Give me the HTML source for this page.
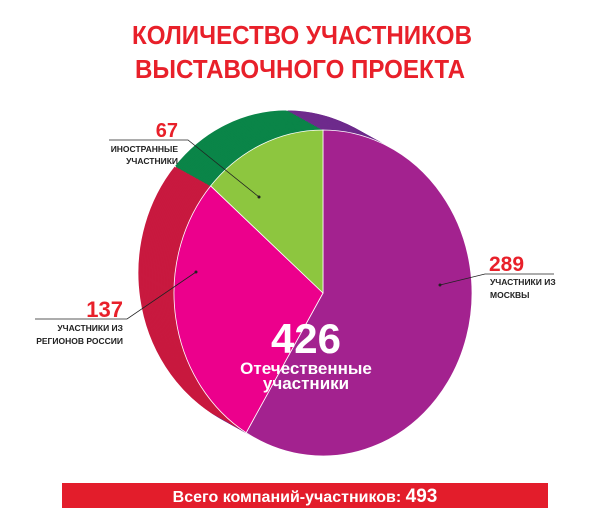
<!DOCTYPE html>
<html><head><meta charset="utf-8"><style>
html,body{margin:0;padding:0;background:#fff;}
svg{display:block;font-family:"Liberation Sans","DejaVu Sans",sans-serif;}
</style></head><body>
<svg id="chart" width="600" height="531" viewBox="0 0 600 531">
<g fill="#e8202a" font-weight="bold" font-size="26" text-anchor="middle">
<text x="302" y="44" textLength="340" lengthAdjust="spacingAndGlyphs">КОЛИЧЕСТВО УЧАСТНИКОВ</text>
<text x="300" y="78" textLength="330" lengthAdjust="spacingAndGlyphs">ВЫСТАВОЧНОГО ПРОЕКТА</text>
</g>
<g id="pie"></g>
<g fill="#fff" font-weight="bold" text-anchor="middle">
<text x="306" y="353" font-size="42">426</text>
<text x="306" y="374" font-size="17">Отечественные</text>
<text x="306" y="389" font-size="17">участники</text>
</g>
<g>
<polyline points="109,140 188,140 259,197" fill="none" stroke="#222" stroke-width="0.8"/>
<circle cx="259" cy="197" r="1.5" fill="#222"/>
<text x="178" y="137" text-anchor="end" font-size="20" font-weight="bold" fill="#e8202a">67</text>
<text x="178" y="152" text-anchor="end" font-size="8.5" font-weight="bold" fill="#222">ИНОСТРАННЫЕ</text>
<text x="178" y="164" text-anchor="end" font-size="8.5" font-weight="bold" fill="#222">УЧАСТНИКИ</text>
</g>
<g>
<polyline points="35,319 127,319 196,272" fill="none" stroke="#222" stroke-width="0.8"/>
<circle cx="196" cy="272" r="1.5" fill="#222"/>
<text x="123" y="317" text-anchor="end" font-size="22" font-weight="bold" fill="#e8202a">137</text>
<text x="123" y="331" text-anchor="end" font-size="8.5" font-weight="bold" fill="#222">УЧАСТНИКИ ИЗ</text>
<text x="123" y="344" text-anchor="end" font-size="8.5" font-weight="bold" fill="#222">РЕГИОНОВ РОССИИ</text>
</g>
<g>
<polyline points="440,285 485,274 554,274" fill="none" stroke="#222" stroke-width="0.8"/>
<circle cx="440" cy="285" r="1.5" fill="#222"/>
<text x="489" y="271" font-size="21" font-weight="bold" fill="#e8202a">289</text>
<text x="490" y="285" font-size="8.5" font-weight="bold" fill="#222">УЧАСТНИКИ ИЗ</text>
<text x="490" y="298" font-size="8.5" font-weight="bold" fill="#222">МОСКВЫ</text>
</g>
<g>
<rect x="62" y="483" width="486" height="25" fill="#e31d2b"/>
<text x="305" y="502" text-anchor="middle" fill="#fff" font-weight="bold" font-size="16">Всего компаний-участников: <tspan font-size="19">493</tspan></text>
</g>
</svg>
<script>
const categories = ["Москва", "Регионы России", "Иностранные"];
const values = [289, 137, 67];
const frontColors = ["#a3228f", "#ec008c", "#8dc63f"];
const sideColors = ["#6e2b8c", "#c8193f", "#0a8548"];
const cx = 323, cy = 293, rx = 149, ry = 163, offX = -36, offY = -20, steps = 24;
const ns = "http://www.w3.org/2000/svg";
const pie = document.getElementById("pie");
const total = values.reduce((a, b) => a + b, 0);
function pt(x0, y0, a) { return [x0 + rx * Math.sin(a), y0 - ry * Math.cos(a)]; }
function slicePath(x0, y0, a0, a1) {
  const p0 = pt(x0, y0, a0), p1 = pt(x0, y0, a1);
  const large = (a1 - a0) > Math.PI ? 1 : 0;
  return `M${x0},${y0} L${p0[0]},${p0[1]} A${rx},${ry} 0 ${large} 1 ${p1[0]},${p1[1]} Z`;
}
function drawLayer(x0, y0, colors, stroke, names) {
  let a = 0;
  values.forEach((v, i) => {
    const a1 = a + v / total * Math.PI * 2;
    const p = document.createElementNS(ns, "path");
    p.setAttribute("d", slicePath(x0, y0, a, a1));
    p.setAttribute("fill", colors[i]);
    if (stroke) { p.setAttribute("stroke", "#fff"); p.setAttribute("stroke-width", "0.8"); }
    
    
    pie.appendChild(p);
    a = a1;
  });
}
for (let s = steps; s >= 1; s--) {
  const t = s / steps;
  drawLayer(cx + offX * t, cy + offY * t, sideColors, s === steps, false);
}
drawLayer(cx, cy, frontColors, true, true);
</script>
</body></html>
